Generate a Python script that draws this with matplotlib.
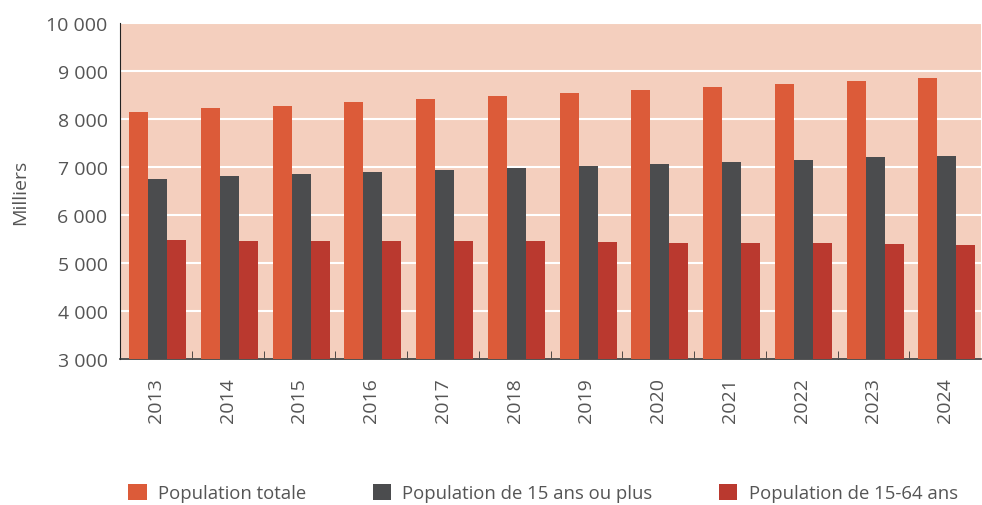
import numpy as np
import matplotlib.pyplot as plt
from matplotlib.ticker import FuncFormatter

plt.rcParams['font.family'] = ['Open Sans', 'DejaVu Sans']

years = ['2013', '2014', '2015', '2016', '2017', '2018',
         '2019', '2020', '2021', '2022', '2023', '2024']
pop_totale = [8146, 8229, 8271, 8354, 8417, 8479, 8542, 8604, 8667, 8729, 8792, 8854]
pop_15_plus = [6750, 6812, 6854, 6896, 6938, 6979, 7021, 7062, 7104, 7146, 7208, 7229]
pop_15_64 = [5479, 5458, 5458, 5458, 5458, 5458, 5437, 5417, 5417, 5417, 5396, 5375]

labels = ['Population totale', 'Population de 15 ans ou plus', 'Population de 15-64 ans']
colors = ['#DC5B39', '#4B4C4E', '#BA392F']
text_col = '#555555'

fig = plt.figure(figsize=(9.82, 5.06), dpi=100)
ax = fig.add_axes([0.1222, 0.2885, 0.8768, 0.6641])
ax.set_facecolor('#F4CFBE')

x = np.arange(len(years))
w = 0.265
shift = 0.025
bars = []
for k, vals in enumerate([pop_totale, pop_15_plus, pop_15_64]):
    b = ax.bar(x + (k - 1) * w + shift, vals, width=w, color=colors[k], label=labels[k], zorder=3)
    bars.append(b)

ax.set_ylim(3000, 10000)
ax.set_xlim(-0.5, len(years) - 0.5)
ax.set_yticks(range(3000, 10001, 1000))
ax.yaxis.set_major_formatter(FuncFormatter(lambda v, p: f'{int(v):,}'.replace(',', ' ')))
ax.grid(axis='y', color='white', linewidth=1.5, zorder=1)
ax.set_axisbelow(True)

ax.set_xticks(x)
ax.set_xticklabels(years, rotation=90)
ax.set_xticks(np.arange(0.5, len(years) - 1, 1), minor=True)
ax.tick_params(axis='x', which='major', length=0, pad=13, labelsize=14, labelcolor=text_col)
ax.tick_params(axis='x', which='minor', direction='in', length=6, color='#333333')
ax.tick_params(axis='y', length=0, pad=9, labelsize=14, labelcolor=text_col)

for s in ['top', 'right']:
    ax.spines[s].set_visible(False)
ax.spines['left'].set_color('#222222')
ax.spines['bottom'].set_color('#333333')
ax.spines['bottom'].set_linewidth(1.2)

ax.set_ylabel('Milliers', fontsize=14, color=text_col, labelpad=12)

fig.legend(handles=bars, labels=labels, loc='center', bbox_to_anchor=(0.553, 0.024),
           ncol=3, frameon=False, fontsize=13.3, labelcolor=text_col,
           handlelength=1.0, handleheight=1.0, handletextpad=0.6, columnspacing=3.6)

fig.savefig('out.png', dpi=100)
